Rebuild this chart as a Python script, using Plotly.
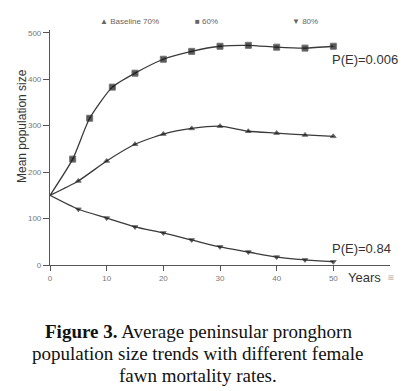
import plotly.graph_objects as go

years_60 = [0, 4, 7, 11, 15, 20, 25, 30, 35, 40, 45, 50]
pop_60 = [150, 228, 316, 383, 413, 443, 460, 471, 473, 469, 467, 471]

years_70 = [0, 5, 10, 15, 20, 25, 30, 35, 40, 45, 50]
pop_70 = [150, 181, 224, 260, 282, 294, 299, 288, 284, 280, 277]

years_80 = [0, 5, 10, 15, 20, 25, 30, 35, 40, 45, 50]
pop_80 = [150, 120, 101, 82, 69, 54, 39, 28, 17, 11, 7]

x_ticks = [0, 10, 20, 30, 40, 50]
y_ticks = [0, 100, 200, 300, 400, 500]

caption_lines = [
    "<b>Figure 3.</b> Average peninsular pronghorn",
    "population size trends with different female",
    "fawn mortality rates.",
]

line_col = "#3a3a3a"
fig = go.Figure()

def add(xs, ys, sym, size):
    sizes = [0] + [size] * (len(xs) - 1)
    fig.add_trace(go.Scatter(
        x=xs, y=ys, mode="lines+markers",
        line=dict(color=line_col, width=1.3, shape="spline", smoothing=0.6),
        marker=dict(symbol=sym, size=sizes, color="#111"),
        showlegend=False, cliponaxis=False))

add(years_60, pop_60, "square", 6)
add(years_70, pop_70, "triangle-up", 5)
add(years_80, pop_80, "triangle-down", 5)

fig.update_layout(
    width=403, height=391,
    margin=dict(l=50, r=13, t=30, b=126),
    paper_bgcolor="white", plot_bgcolor="white",
    font=dict(family="Liberation Sans, Arial, sans-serif", color="#444"),
    xaxis=dict(range=[0, 60], tickvals=x_ticks, ticks="outside", ticklen=5,
               tickcolor="#555", showgrid=False, zeroline=False,
               showline=True, linecolor="#555", linewidth=1.2,
               tickfont=dict(size=8, color="#777")),
    yaxis=dict(range=[0, 506], tickvals=y_ticks, ticks="outside", ticklen=6,
               tickcolor="#555", showgrid=False, zeroline=False,
               showline=True, linecolor="#555", linewidth=1.2,
               tickfont=dict(size=8, color="#777")),
)

W, H = 340, 235  # plot area px
def px(xp): return (xp - 50) / W
def py(yp): return (265 - yp) / H

def ann(xp, yp, text, size, color="#333", xanchor="left", family=None, **kw):
    f = dict(size=size, color=color)
    if family:
        f["family"] = family
    fig.add_annotation(x=px(xp), y=py(yp), xref="paper", yref="paper", text=text,
                       showarrow=False, font=f, xanchor=xanchor,
                       yanchor="middle", **kw)

# legend
ann(98, 22, "▲ Baseline 70%", 8, "#666")
ann(193, 22, "■ 60%", 8, "#666")
ann(290, 22, "▼ 80%", 8, "#666")

ann(22, 126, "Mean population size", 12, "#333", xanchor="center", textangle=-90)
ann(330, 60, "P(E)=0.006", 13, "#333")
ann(330, 248, "P(E)=0.84", 13, "#333")
ann(346, 277, "Years", 13, "#333")
ann(386, 277, "⊞", 7, "#aaa")

serif = "Liberation Serif, Times New Roman, serif"
for i, line in enumerate(caption_lines):
    ann(198, 331 + 22 * i, line, 19, "#111", xanchor="center", family=serif)

fig.write_html("out.html", config={"displayModeBar": False},
               post_script="document.body.style.margin='0';")
